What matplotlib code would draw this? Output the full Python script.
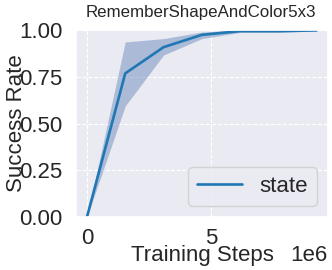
import numpy as np
import matplotlib
matplotlib.use("Agg")
import matplotlib.pyplot as plt
import seaborn as sns

# 数据
steps = [0.0, 1.54e6, 3.08e6, 4.62e6, 6.16e6, 7.70e6, 9.24e6]
mean_rate = [0.0, 0.768, 0.908, 0.974, 0.994, 0.994, 0.998]
upper_rate = [0.0, 0.936, 0.954, 0.989, 1.0, 1.0, 1.0]
lower_rate = [0.0, 0.594, 0.866, 0.954, 0.987, 0.987, 0.995]
title = "RememberShapeAndColor5x3"
series_name = "state"

sns.set_theme(style="darkgrid", rc={"grid.linestyle": "--", "grid.linewidth": 0.8})
plt.rcParams['font.family'] = ['Liberation Sans', 'DejaVu Sans']

W, H = 332, 270
fig = plt.figure(figsize=(W / 100, H / 100), dpi=100)
ax = fig.add_axes([75.5 / W, 1 - 217 / H, 252.5 / W, 187 / H])

ax.fill_between(steps, lower_rate, upper_rate, color='#4c72b0', alpha=0.4, linewidth=0)
ax.plot(steps, mean_rate, color='#1f77b4', linewidth=1.9, label=series_name)

fs = 16
ax.set_ylim(0, 1)
ax.set_yticks([0, 0.25, 0.5, 0.75, 1.0])
ax.set_xlim(-0.462e6, 9.70e6)
ax.set_xticks([0, 5e6])
ax.tick_params(axis='y', labelsize=fs, pad=3.5)
ax.tick_params(axis='x', labelsize=fs, pad=2)

# 1e6 放在与 x 轴标签同一行
ax.xaxis.get_offset_text().set_visible(False)
fig.text(327 / W, 1 - 261 / H, "1e6", fontsize=fs, ha='right', va='baseline')
fig.text(202.5 / W, 1 - 261 / H, "Training Steps", fontsize=fs, ha='center', va='baseline')
fig.text(22.5 / W, 1 - 123 / H, "Success Rate", fontsize=fs, ha='center', va='baseline',
         rotation=90, rotation_mode='anchor')

fig.text(201 / W, 1 - 17 / H, title, fontsize=12.2, ha='center', va='baseline')
ax.legend(loc='lower right', fontsize=fs, handlelength=2.0, borderaxespad=0.5)

fig.savefig("out.png", dpi=100)
